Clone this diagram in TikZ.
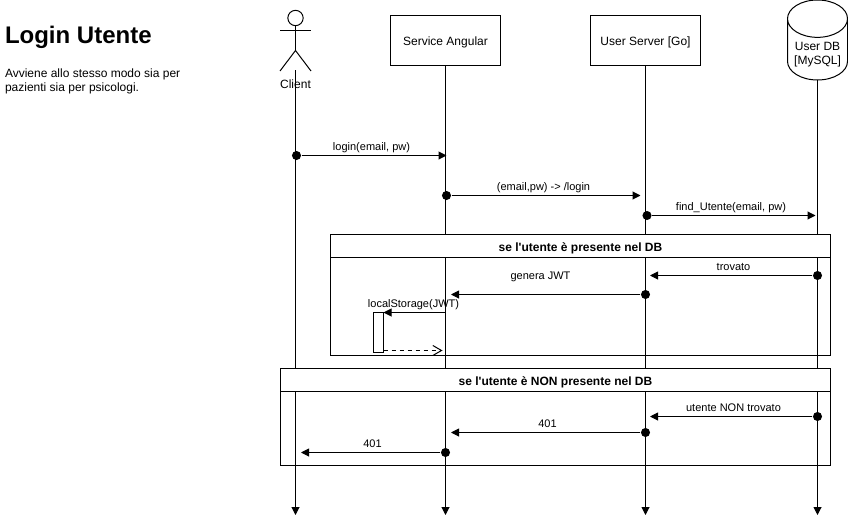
\documentclass[tikz,border=0pt]{standalone}
\usepackage{fontspec}
\setmainfont{Liberation Sans}
\usetikzlibrary{arrows.meta,shapes.geometric}

\begin{document}
\begin{tikzpicture}[
  x=0.75pt, y=-0.75pt,
  line width=0.75pt,
  box/.style={draw, fill=white, minimum width=82.5pt, minimum height=37.5pt,
              text height=8.3pt, text depth=1.5pt,
              inner sep=0pt, outer sep=0pt, font=\fontsize{9}{10.5}\selectfont},
  db/.style={draw, fill=white, cylinder, shape border rotate=90, aspect=0.8,
             minimum width=45pt, minimum height=60pt, inner sep=0pt, outer sep=0pt,
             anchor=shape center, font=\fontsize{9}{10.5}\selectfont},
  lifeline/.style={-{Triangle[length=6pt,width=6pt]}},
  msg/.style={-{Triangle[length=6pt,width=6pt]}},
  reply/.style={dashed, -{Straight Barb[length=6.5pt,width=7.5pt]}},
  dot/.style={circle, fill=black, minimum size=6.8pt, inner sep=0pt},
  label/.style={font=\fontsize{8.25}{10}\selectfont, inner sep=0pt},
  frametitle/.style={draw, fill=white, minimum height=17pt, inner sep=0pt, outer sep=0pt, anchor=north west,
                     text height=9.3pt, text depth=1.5pt,
                     font=\bfseries\fontsize{9}{10.5}\selectfont},
  framebody/.style={draw, inner sep=0pt, outer sep=0pt, anchor=north west}
]
  \useasboundingbox (0,0) rectangle (848,524);

  % header text
  \node[anchor=west, inner sep=0pt, font=\bfseries\fontsize{18}{21}\selectfont] (title) at (4.5,37.5) {Login Utente};
  \node[anchor=north west, inner sep=0pt, align=left, font=\fontsize{9}{10.5}\selectfont] (descr) at (4.5,68)
    {Avviene allo stesso modo sia per\\pazienti sia per psicologi.};

  % participants
  \node[box] (angular) at (445.5,40.5) {Service Angular};
  \node[box] (server) at (645.5,40.5) {User Server [Go]};
  \node[db] (userdb) at (817.5,40) {\smash{\raisebox{-6pt}{\begin{tabular}{@{}c@{}}User DB\\{}[MySQL]\end{tabular}}}};

  % actor
  \node[circle, draw, minimum size=11.5pt, inner sep=0pt] (head) at (295.5,18) {};
  \coordinate (hip) at (295.5,50.5);
  \coordinate (armL) at (280,30.5);
  \coordinate (armR) at (311,30.5);
  \coordinate (legL) at (280,71);
  \coordinate (legR) at (311,71);
  \coordinate (foot) at (295.5,70.5);
  \draw (head) -- (hip);
  \draw (armL) -- (armR);
  \draw (legL) -- (hip) -- (legR);

  % lifelines
  \coordinate (endclient) at (295.5,515);
  \coordinate (endangular) at (445.5,515);
  \coordinate (endserver) at (645.5,515);
  \coordinate (enduserdb) at (817.5,515);
  \draw[lifeline] (foot) -- (endclient);
  \draw[lifeline] (angular) -- (endangular);
  \draw[lifeline] (server) -- (endserver);
  \draw[lifeline] (userdb.south) -- (enduserdb);
  \node[font=\fontsize{9}{10.5}\selectfont, inner sep=0pt] (client) at (295.5,84) {Client};

  % frames
  \node[framebody, minimum width=375pt, minimum height=90.75pt] (foundbody) at (330.5,234.5) {};
  \node[frametitle, minimum width=375pt] (found) at (330.5,234.5) {se l\textquotesingle utente è presente nel DB};
  \node[framebody, minimum width=412.5pt, minimum height=72.75pt] (missbody) at (280.5,368.5) {};
  \node[frametitle, minimum width=412.5pt] (miss) at (280.5,368.5) {se l\textquotesingle utente è NON presente nel DB};

  % messages
  \node[dot] (d1) at (296.5,155.5) {};
  \coordinate (e1) at (446.5,155.5);
  \draw[msg] (d1) -- (e1);
  \node[label] (l1) at (371.5,148) {login(email, pw)};

  \node[dot] (d2) at (446.5,195.5) {};
  \coordinate (e2) at (640.5,195.5);
  \draw[msg] (d2) -- (e2);
  \node[label] (l2) at (543.5,188) {(email,pw) -> /login};

  \node[dot] (d3) at (647,215.5) {};
  \coordinate (e3) at (815.5,215.5);
  \draw[msg] (d3) -- (e3);
  \node[label] (l3) at (731,208) {find\_Utente(email, pw)};

  \node[dot] (d4) at (817.5,275.5) {};
  \coordinate (e4) at (650,275.5);
  \draw[msg] (d4) -- (e4);
  \node[label] (l4) at (733.5,266.5) {trovato};

  \node[dot] (d5) at (645.5,294.5) {};
  \coordinate (e5) at (451,294.5);
  \draw[msg] (d5) -- (e5);
  \node[label] (l5) at (540.5,277) {genera JWT};

  % self call
  \node[draw, fill=white, minimum width=7.5pt, minimum height=30pt, inner sep=0pt, outer sep=0pt] (store) at (378.5,332.5) {};
  \coordinate (s1) at (445.5,312.5);
  \coordinate (s2) at (383.5,312.5);
  \coordinate (s3) at (383.5,350.5);
  \coordinate (s4) at (442.5,350.5);
  \draw[msg] (s1) -- (s2);
  \draw[reply] (s3) -- (s4);
  \node[label] (l6) at (413.5,305) {localStorage(JWT)};

  \node[dot] (d7) at (817.5,416.5) {};
  \coordinate (e7) at (650,416.5);
  \draw[msg] (d7) -- (e7);
  \node[label] (l7) at (733.5,408) {utente NON trovato};

  \node[dot] (d8) at (645.5,432.5) {};
  \coordinate (e8) at (451,432.5);
  \draw[msg] (d8) -- (e8);
  \node[label] (l8) at (547.5,424) {401};

  \node[dot] (d9) at (445.5,452.5) {};
  \coordinate (e9) at (301,452.5);
  \draw[msg] (d9) -- (e9);
  \node[label] (l9) at (372.5,444) {401};
\end{tikzpicture}
\end{document}
